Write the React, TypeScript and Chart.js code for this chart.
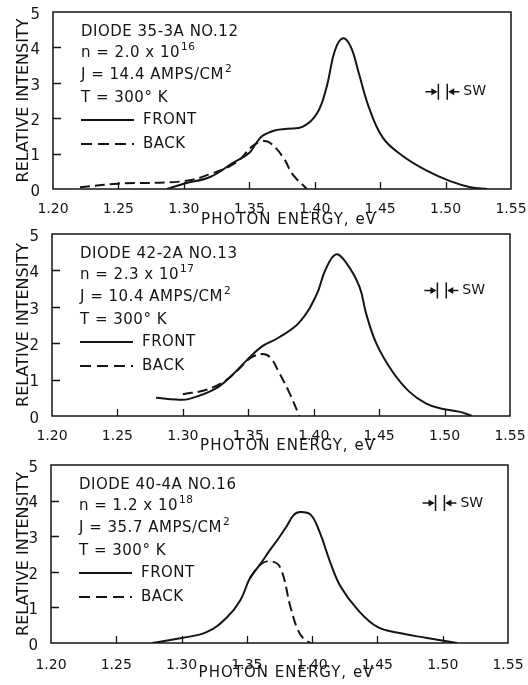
import React, { useEffect, useRef } from "react";
import { Chart, registerables } from "chart.js";

Chart.register(...registerables);

// ---------- data ----------
const xTickValues = [1.2, 1.25, 1.3, 1.35, 1.4, 1.45, 1.5, 1.55];
const yTickValues = [0, 1, 2, 3, 4, 5];

const front1Energy = [1.287, 1.3, 1.32, 1.3375, 1.35, 1.355, 1.36, 1.37, 1.379, 1.391, 1.4017, 1.409, 1.4155, 1.4216, 1.4275, 1.4335, 1.441, 1.452, 1.467, 1.486, 1.503, 1.519, 1.532];
const front1Intensity = [0, 0.15, 0.34, 0.74, 1.02, 1.28, 1.5, 1.66, 1.7, 1.76, 2.13, 2.87, 3.92, 4.26, 4.02, 3.3, 2.35, 1.45, 0.94, 0.51, 0.23, 0.05, 0];
const back1Energy = [1.2206, 1.25, 1.3, 1.32, 1.34, 1.352, 1.36, 1.366, 1.376, 1.383, 1.394];
const back1Intensity = [0.05, 0.15, 0.22, 0.42, 0.75, 1.2, 1.35, 1.3, 0.89, 0.42, 0];

const front2Energy = [1.2795, 1.295, 1.305, 1.325, 1.3375, 1.348, 1.36, 1.373, 1.389, 1.402, 1.409, 1.417, 1.425, 1.435, 1.44, 1.448, 1.46, 1.473, 1.486, 1.498, 1.511, 1.521];
const front2Intensity = [0.5, 0.45, 0.47, 0.75, 1.12, 1.5, 1.9, 2.15, 2.57, 3.32, 4.02, 4.44, 4.2, 3.55, 2.82, 1.98, 1.23, 0.67, 0.34, 0.2, 0.12, 0];
const back2Energy = [1.3, 1.318, 1.333, 1.343, 1.352, 1.361, 1.367, 1.373, 1.381, 1.389];
const back2Intensity = [0.6, 0.72, 0.98, 1.3, 1.6, 1.7, 1.6, 1.23, 0.67, 0];

const front3Energy = [1.2775, 1.3, 1.3195, 1.335, 1.345, 1.3525, 1.36, 1.3675, 1.3735, 1.38, 1.386, 1.391, 1.399, 1.406, 1.414, 1.422, 1.435, 1.45, 1.467, 1.488, 1.511];
const front3Intensity = [0, 0.14, 0.31, 0.73, 1.2, 1.83, 2.2, 2.6, 2.9, 3.25, 3.6, 3.68, 3.6, 3.09, 2.25, 1.57, 0.93, 0.45, 0.28, 0.14, 0];
const back3Energy = [1.3525, 1.36, 1.3677, 1.3754, 1.3835, 1.389, 1.394, 1.399];
const back3Intensity = [1.83, 2.19, 2.3, 2.13, 1.0, 0.37, 0.1, 0];

const diodeLabels = ["DIODE 35-3A NO.12", "DIODE 42-2A NO.13", "DIODE 40-4A NO.16"];
const densityMantissa = ["2.0", "2.3", "1.2"];
const densityExponent = ["16", "17", "18"];
const currentDensity = ["14.4", "10.4", "35.7"];
const temperatureLabel = "T = 300° K";
const seriesLabels = ["FRONT", "BACK"];
const swEdges = [1.4945, 1.5013];
const swLevels = [2.75, 3.45, 3.93];
const xTitle = "PHOTON ENERGY, eV";
const yTitle = "RELATIVE INTENSITY";

const frontEnergy = [front1Energy, front2Energy, front3Energy];
const frontIntensity = [front1Intensity, front2Intensity, front3Intensity];
const backEnergy = [back1Energy, back2Energy, back3Energy];
const backIntensity = [back1Intensity, back2Intensity, back3Intensity];

// ---------- layout (positions, not data) ----------
// canvases are transparent and may overlap
const panels = [
  { top: 0, height: 234, padTop: 12, yWidth: 53, padRight: 17, xHeight: 45, tickPad: 3.6, titleOff: 31 },
  { top: 220, height: 240, padTop: 14, yWidth: 52, padRight: 18, xHeight: 44, tickPad: 3.6, titleOff: 30 },
  { top: 450, height: 235, padTop: 15, yWidth: 51, padRight: 20, xHeight: 42, tickPad: 5.6, titleOff: 30 },
];

const INK = "#141414";
const FONT = '"DejaVu Sans", "Liberation Sans", sans-serif';

function toPoints(xs: number[], ys: number[]) {
  return xs.map((x, i) => ({ x, y: ys[i] }));
}

function makeDecor(idx: number) {
  return {
    id: "decor" + idx,
    afterDraw(chart: any) {
      const { ctx, chartArea: a, scales } = chart;
      const xs = scales.x;
      const ys = scales.y;
      const L = panels[idx];
      ctx.save();
      ctx.strokeStyle = INK;
      ctx.fillStyle = INK;
      // frame
      ctx.lineWidth = 1.5;
      ctx.strokeRect(a.left, a.top, a.right - a.left, a.bottom - a.top);
      // inward ticks
      ctx.lineWidth = 1.3;
      ctx.beginPath();
      xTickValues.slice(1, -1).forEach((v) => {
        const px = Math.round(xs.getPixelForValue(v)) + 0.5;
        ctx.moveTo(px, a.bottom);
        ctx.lineTo(px, a.bottom - 7);
      });
      yTickValues.slice(1, -1).forEach((v) => {
        const py = Math.round(ys.getPixelForValue(v)) + 0.5;
        ctx.moveTo(a.left, py);
        ctx.lineTo(a.left + 8, py);
      });
      ctx.stroke();

      // annotation block
      const tx = a.left + 28;
      const rows = [20, 41, 63, 86, 108, 132].map((o) => a.top + o);
      ctx.textBaseline = "middle";
      ctx.textAlign = "left";
      const main = "15px " + FONT;
      const sup = "10.5px " + FONT;
      ctx.letterSpacing = "0.5px";
      ctx.font = main;
      ctx.fillText(diodeLabels[idx], tx, rows[0]);
      const nText = "n = " + densityMantissa[idx] + " x 10";
      ctx.fillText(nText, tx, rows[1]);
      let w = ctx.measureText(nText).width;
      ctx.font = sup;
      ctx.fillText(densityExponent[idx], tx + w + 1, rows[1] - 6);
      ctx.font = main;
      const jText = "J = " + currentDensity[idx] + " AMPS/CM";
      ctx.fillText(jText, tx, rows[2]);
      w = ctx.measureText(jText).width;
      ctx.font = sup;
      ctx.fillText("2", tx + w + 1, rows[2] - 6);
      ctx.font = main;
      ctx.fillText(temperatureLabel, tx, rows[3]);
      // legend samples
      ctx.lineWidth = 2;
      ctx.beginPath();
      ctx.moveTo(tx, rows[4]);
      ctx.lineTo(tx + 53, rows[4]);
      ctx.stroke();
      ctx.setLineDash([11, 6]);
      ctx.beginPath();
      ctx.moveTo(tx, rows[5]);
      ctx.lineTo(tx + 53, rows[5]);
      ctx.stroke();
      ctx.setLineDash([]);
      ctx.fillText(seriesLabels[0], tx + 62, rows[4]);
      ctx.fillText(seriesLabels[1], tx + 62, rows[5]);

      // SW marker
      const sy = ys.getPixelForValue(swLevels[idx]);
      const xa = xs.getPixelForValue(swEdges[0]);
      const xb = xs.getPixelForValue(swEdges[1]);
      ctx.lineWidth = 1.5;
      ctx.beginPath();
      ctx.moveTo(xa, sy - 8);
      ctx.lineTo(xa, sy + 8);
      ctx.moveTo(xb, sy - 8);
      ctx.lineTo(xb, sy + 8);
      ctx.moveTo(xa - 13, sy);
      ctx.lineTo(xa - 2, sy);
      ctx.moveTo(xb + 2, sy);
      ctx.lineTo(xb + 12, sy);
      ctx.stroke();
      ctx.beginPath();
      ctx.moveTo(xa - 1, sy);
      ctx.lineTo(xa - 7, sy - 3.5);
      ctx.lineTo(xa - 7, sy + 3.5);
      ctx.closePath();
      ctx.moveTo(xb + 1, sy);
      ctx.lineTo(xb + 7, sy - 3.5);
      ctx.lineTo(xb + 7, sy + 3.5);
      ctx.closePath();
      ctx.fill();
      ctx.font = "14px " + FONT;
      ctx.letterSpacing = "0px";
      ctx.fillText("SW", xb + 16, sy);

      // x-axis title
      ctx.font = "15px " + FONT;
      ctx.letterSpacing = "1px";
      ctx.textAlign = "center";
      ctx.fillText(xTitle, (a.left + a.right) / 2 + 7, a.bottom + L.titleOff);
      ctx.restore();
    },
  };
}

function buildChart(canvas: HTMLCanvasElement, idx: number) {
  const L = panels[idx];
  return new Chart(canvas, {
    type: "line",
    data: {
      datasets: [
        {
          label: seriesLabels[0],
          data: toPoints(frontEnergy[idx], frontIntensity[idx]),
          borderColor: INK,
          borderWidth: 2,
          pointRadius: 0,
          tension: 0.4,
          fill: false,
        },
        {
          label: seriesLabels[1],
          data: toPoints(backEnergy[idx], backIntensity[idx]),
          borderColor: INK,
          borderWidth: 2,
          borderDash: [10, 5],
          pointRadius: 0,
          tension: 0.4,
          fill: false,
        },
      ],
    },
    options: {
      responsive: false,
      animation: false,
      devicePixelRatio: 1,
      layout: { padding: { top: L.padTop, right: L.padRight, left: 0, bottom: 0 } },
      plugins: { legend: { display: false }, tooltip: { enabled: false } },
      scales: {
        x: {
          type: "linear",
          min: 1.2,
          max: 1.55,
          grid: { display: false },
          border: { display: false },
          afterBuildTicks: (s: any) => {
            s.ticks = xTickValues.map((v) => ({ value: v }));
          },
          afterFit: (s: any) => {
            s.height = L.xHeight;
            s.paddingLeft = 0;
            s.paddingRight = 0;
          },
          ticks: {
            autoSkip: false,
            maxRotation: 0,
            padding: L.tickPad,
            color: INK,
            font: { family: FONT, size: 14 },
            callback: (v: any) => Number(v).toFixed(2),
          },
        },
        y: {
          type: "linear",
          min: 0,
          max: 5,
          grid: { display: false },
          border: { display: false },
          afterBuildTicks: (s: any) => {
            s.ticks = yTickValues.map((v) => ({ value: v }));
          },
          afterFit: (s: any) => {
            s.width = L.yWidth;
            s.paddingTop = 0;
            s.paddingBottom = 0;
          },
          ticks: {
            padding: 5,
            labelOffset: 3,
            color: INK,
            font: { family: FONT, size: 15 },
            callback: (v: any) => String(v),
          },
          title: {
            display: true,
            text: yTitle,
            color: INK,
            font: { family: FONT, size: 16 },
            padding: { top: 14, bottom: 0 },
          },
        },
      },
    },
    plugins: [makeDecor(idx)],
  } as any);
}

export default function App() {
  const r0 = useRef<HTMLCanvasElement>(null);
  const r1 = useRef<HTMLCanvasElement>(null);
  const r2 = useRef<HTMLCanvasElement>(null);

  useEffect(() => {
    const refs = [r0, r1, r2];
    const charts = refs.map((r, i) => buildChart(r.current as HTMLCanvasElement, i));
    return () => charts.forEach((c) => c.destroy());
  }, []);

  const refs = [r0, r1, r2];
  return (
    <div style={{ position: "absolute", left: 0, top: 0, width: 528, height: 685, background: "#fff" }}>
      {panels.map((p, i) => (
        <canvas
          key={i}
          ref={refs[i]}
          width={528}
          height={p.height}
          style={{ position: "absolute", left: 0, top: p.top, width: 528, height: p.height, display: "block" }}
        />
      ))}
    </div>
  );
}
